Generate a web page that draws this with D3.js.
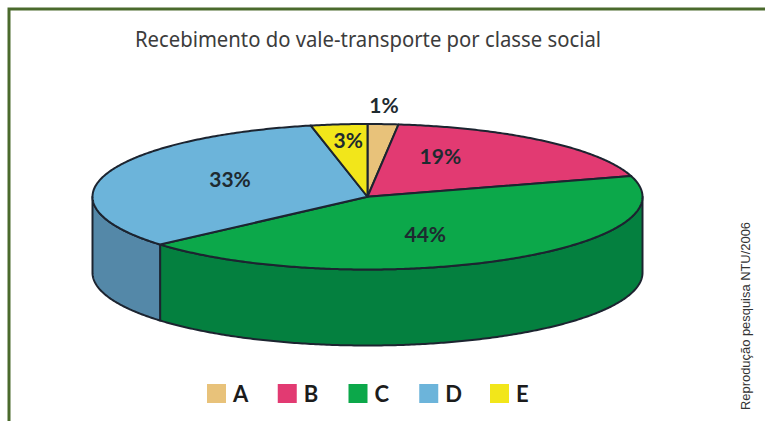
<!DOCTYPE html>
<html>
<head>
<meta charset="utf-8">
<script src="https://cdn.jsdelivr.net/npm/d3@7"></script>
<style>
  html, body { margin: 0; padding: 0; background: #fff; }
  svg { display: block; }
</style>
</head>
<body>
<svg id="chart" width="765" height="421"></svg>
<script>
"use strict";

var chartTitle = "Recebimento do vale-transporte por classe social";
var sourceNote = "Reprodução pesquisa NTU/2006";
var categories = ["A", "B", "C", "D", "E"];
var percentLabels = ["1%", "19%", "44%", "33%", "3%"];
// slice sizes (the printed wedges differ a little from their labels)
var sliceShares = [1.8, 18.6, 43.2, 33.1, 3.3];
var topColors = ["#e8c27a", "#e23a72", "#0ca84a", "#6cb4da", "#f2e61a"];
var sideColors = ["#b89a60", "#b02e5a", "#04803f", "#5488a8", "#c0b614"];
// label anchors, in unit-ellipse coordinates (x, y) of the pie top
var labelX = [0.06, 0.265, 0.21, -0.50, -0.07];
var labelY = [-1.25, -0.55, 0.52, -0.23, -0.77];

var svg = d3.select("#chart");
var outline = "#1c2430";
var depth = 76;

var x = d3.scaleLinear().domain([-1, 1]).range([92.5, 642.5]);
var y = d3.scaleLinear().domain([-1, 1]).range([124, 269.5]);
var legendX = d3.scalePoint().domain(categories).range([207, 490]);

// frame
svg.append("path")
  .attr("d", "M765,9H9V421")
  .attr("fill", "none")
  .attr("stroke", "#4a6a2c")
  .attr("stroke-width", 3);

svg.append("text")
  .attr("x", 135)
  .attr("y", 47)
  .attr("textLength", 466)
  .attr("lengthAdjust", "spacingAndGlyphs")
  .attr("font-family", "'Noto Sans', sans-serif")
  .attr("font-size", 21)
  .attr("fill", "#3c3c3c")
  .text(chartTitle);

var pie = d3.pie().sort(null).value(function (d) { return d; });
var slices = pie(sliceShares);

function px(a) { return x(Math.sin(a)); }
function py(a) { return y(-Math.cos(a)); }

// side wall, only the front half of the ellipse is visible
var sideG = svg.append("g");
slices.forEach(function (s, i) {
  var a0 = Math.max(s.startAngle, Math.PI / 2);
  var a1 = Math.min(s.endAngle, 3 * Math.PI / 2);
  if (a1 <= a0) return;
  var angles = d3.range(a0, a1, 0.01).concat([a1]);
  var area = d3.area()
    .x(function (a) { return px(a); })
    .y0(function (a) { return py(a); })
    .y1(function (a) { return py(a) + depth; });
  sideG.append("path")
    .attr("d", area(angles))
    .attr("fill", sideColors[i])
    .attr("stroke", outline)
    .attr("stroke-width", 2)
    .attr("stroke-linejoin", "round");
});

// top of the pie
var line = d3.line()
  .x(function (p) { return p[0]; })
  .y(function (p) { return p[1]; });
svg.append("g").selectAll("path")
  .data(slices)
  .enter()
  .append("path")
  .attr("d", function (s) {
    var angles = d3.range(s.startAngle, s.endAngle, 0.01).concat([s.endAngle]);
    var pts = [[x(0), y(0)]].concat(angles.map(function (a) { return [px(a), py(a)]; }));
    return line(pts) + "Z";
  })
  .attr("fill", function (s, i) { return topColors[i]; })
  .attr("stroke", outline)
  .attr("stroke-width", 2)
  .attr("stroke-linejoin", "round");

// percent labels
svg.append("g").selectAll("text")
  .data(percentLabels)
  .enter()
  .append("text")
  .attr("x", function (d, i) { return x(labelX[i]); })
  .attr("y", function (d, i) { return y(labelY[i]); })
  .attr("dy", "0.35em")
  .attr("text-anchor", "middle")
  .attr("font-family", "Lato, sans-serif")
  .attr("font-weight", 700)
  .attr("font-size", 21)
  .attr("fill", "#1e2a30")
  .text(function (d) { return d; });

// legend
var legend = svg.append("g").selectAll("g")
  .data(categories)
  .enter()
  .append("g")
  .attr("transform", function (d) { return "translate(" + legendX(d) + ",384)"; });
legend.append("rect")
  .attr("width", 19)
  .attr("height", 19)
  .attr("fill", function (d, i) { return topColors[i]; });
legend.append("text")
  .attr("x", 26)
  .attr("y", 17.5)
  .attr("font-family", "Lato, sans-serif")
  .attr("font-weight", 700)
  .attr("font-size", 22)
  .attr("fill", "#1c1c1c")
  .text(function (d) { return d; });

svg.append("text")
  .attr("transform", "translate(750,410) rotate(-90)")
  .attr("textLength", 188)
  .attr("lengthAdjust", "spacingAndGlyphs")
  .attr("font-family", "'Liberation Sans', sans-serif")
  .attr("font-size", 13.5)
  .attr("fill", "#333")
  .text(sourceNote);
</script>
</body>
</html>
